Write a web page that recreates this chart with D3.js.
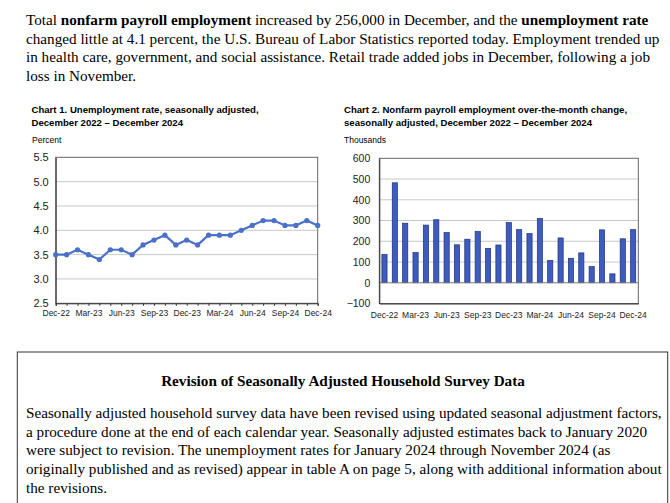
<!DOCTYPE html>
<html>
  <head>
    <meta charset="UTF-8" />
    <title>Employment Situation - December 2024</title>
    <style>
      body,
      html {
        margin: 0;
        padding: 0;
        overflow: hidden;
        background: #fff;
      }
      .serif {
        font-family: "Liberation Serif", "Times New Roman", serif;
        fill: #000;
      }
      .sans {
        font-family: "Liberation Sans", Arial, sans-serif;
        fill: #000;
      }
      .grid line {
        stroke: #c8c8c8;
        stroke-width: 1px;
      }
    </style>
  </head>
  <body>
    <svg id="page"></svg>
    <script src="https://d3js.org/d3.v7.min.js"></script>
    <script>
      const width = 670;
      const height = 503;

      // months Dec-22 .. Dec-24
      const months = [
        "Dec-22", "Jan-23", "Feb-23", "Mar-23", "Apr-23", "May-23", "Jun-23",
        "Jul-23", "Aug-23", "Sep-23", "Oct-23", "Nov-23", "Dec-23", "Jan-24",
        "Feb-24", "Mar-24", "Apr-24", "May-24", "Jun-24", "Jul-24", "Aug-24",
        "Sep-24", "Oct-24", "Nov-24", "Dec-24",
      ];
      const unemploymentRate = [
        3.5, 3.5, 3.6, 3.5, 3.4, 3.6, 3.6, 3.5, 3.7, 3.8, 3.9, 3.7, 3.8, 3.7,
        3.9, 3.9, 3.9, 4.0, 4.1, 4.2, 4.2, 4.1, 4.1, 4.2, 4.1,
      ];
      const payrollChange = [
        136, 482, 287, 146, 278, 304, 242, 183, 210, 247, 166, 182, 290, 256,
        237, 310, 108, 216, 118, 144, 78, 255, 43, 212, 256,
      ];
      const rateTicks = [2.5, 3.0, 3.5, 4.0, 4.5, 5.0, 5.5];
      const payrollTicks = [-100, 0, 100, 200, 300, 400, 500, 600];
      const monthLabels = months.filter((m, i) => i % 3 === 0);

      const introLines = [
        [["Total "], ["nonfarm payroll employment", true], [" increased by 256,000 in December, and the "], ["unemployment rate", true]],
        [["changed little at 4.1 percent, the U.S. Bureau of Labor Statistics reported today. Employment trended up"]],
        [["in health care, government, and social assistance. Retail trade added jobs in December, following a job"]],
        [["loss in November."]],
      ];
      const boxTitle = "Revision of Seasonally Adjusted Household Survey Data";
      const boxLines = [
        "Seasonally adjusted household survey data have been revised using updated seasonal adjustment factors,",
        "a procedure done at the end of each calendar year. Seasonally adjusted estimates back to January 2020",
        "were subject to revision. The unemployment rates for January 2024 through November 2024 (as",
        "originally published and as revised) appear in table A on page 5, along with additional information about",
        "the revisions.",
      ];

      const svg = d3
        .select("#page")
        .attr("width", width)
        .attr("height", height);

      // intro paragraph
      introLines.forEach((segs, i) => {
        const t = svg
          .append("text")
          .attr("class", "serif")
          .attr("x", 26)
          .attr("y", 25 + i * 18.7)
          .style("font-size", "15.2px");
        segs.forEach((s) =>
          t
            .append("tspan")
            .style("font-weight", s[1] ? "bold" : "normal")
            .text(s[0])
        );
      });

      // ---------- Chart 1: unemployment rate ----------
      const c1 = { left: 55.7, right: 317.7, top: 157.3, bottom: 303.3 };

      svg.append("text").attr("class", "sans").attr("x", 31.5).attr("y", 113)
        .style("font-size", "9.6px").style("font-weight", "bold")
        .text("Chart 1. Unemployment rate, seasonally adjusted,");
      svg.append("text").attr("class", "sans").attr("x", 31.5).attr("y", 125.5)
        .style("font-size", "9.6px").style("font-weight", "bold")
        .text("December 2022 \u2013 December 2024");
      svg.append("text").attr("class", "sans").attr("x", 32).attr("y", 143)
        .style("font-size", "8.5px").text("Percent");

      const x1 = d3.scalePoint().domain(months).range([c1.left, c1.right]);
      const y1 = d3.scaleLinear().domain([2.5, 5.5]).range([c1.bottom, c1.top]);

      svg.append("g").attr("class", "grid")
        .selectAll("line")
        .data(rateTicks.slice(1, -1))
        .join("line")
        .attr("x1", c1.left).attr("x2", c1.right)
        .attr("y1", (d) => y1(d)).attr("y2", (d) => y1(d));

      svg.append("rect")
        .attr("x", c1.left).attr("y", c1.top)
        .attr("width", c1.right - c1.left).attr("height", c1.bottom - c1.top)
        .attr("fill", "none").attr("stroke", "#666").attr("stroke-width", 1);

      const yAxis1 = svg.append("g")
        .attr("transform", `translate(${c1.left},0)`)
        .call(d3.axisLeft(y1).tickValues(rateTicks).tickFormat(d3.format(".1f")).tickSize(0).tickPadding(7));
      yAxis1.select(".domain").attr("stroke", "#333");
      yAxis1.selectAll("text")
        .style("font-family", "Liberation Sans, Arial, sans-serif")
        .style("font-size", "11px").attr("fill", "#222");

      const xAxis1 = svg.append("g")
        .attr("transform", `translate(0,${c1.bottom})`)
        .call(d3.axisBottom(x1).tickSize(2.5).tickPadding(4)
          .tickFormat((d) => (monthLabels.includes(d) ? d : "")));
      xAxis1.select(".domain").attr("stroke", "#333");
      xAxis1.selectAll(".tick line").attr("stroke", "#333");
      xAxis1.selectAll("text")
        .style("font-family", "Liberation Sans, Arial, sans-serif")
        .style("font-size", "8.5px").attr("fill", "#222");

      const line = d3.line()
        .x((d, i) => x1(months[i]))
        .y((d) => y1(d));
      svg.append("path")
        .datum(unemploymentRate)
        .attr("d", line)
        .attr("fill", "none")
        .attr("stroke", "#4a70c8")
        .attr("stroke-width", 2.2);
      svg.append("g")
        .selectAll("circle")
        .data(unemploymentRate)
        .join("circle")
        .attr("cx", (d, i) => x1(months[i]))
        .attr("cy", (d) => y1(d))
        .attr("r", 2.6)
        .attr("fill", "#4a70c8");

      // ---------- Chart 2: payroll change ----------
      const c2 = { left: 379.3, right: 638.3, top: 158.3, bottom: 303.5 };

      svg.append("text").attr("class", "sans").attr("x", 344).attr("y", 113)
        .style("font-size", "9.6px").style("font-weight", "bold")
        .text("Chart 2. Nonfarm payroll employment over-the-month change,");
      svg.append("text").attr("class", "sans").attr("x", 344).attr("y", 125.5)
        .style("font-size", "9.6px").style("font-weight", "bold")
        .text("seasonally adjusted, December 2022 \u2013 December 2024");
      svg.append("text").attr("class", "sans").attr("x", 344).attr("y", 143)
        .style("font-size", "8.5px").text("Thousands");

      const x2 = d3.scaleBand().domain(months).range([c2.left, c2.right]).paddingInner(0.5).paddingOuter(0.25);
      const y2 = d3.scaleLinear().domain([-100, 600]).range([c2.bottom, c2.top]);

      svg.append("g").attr("class", "grid")
        .selectAll("line")
        .data(payrollTicks.slice(1, -1).filter((d) => d !== 0))
        .join("line")
        .attr("x1", c2.left).attr("x2", c2.right)
        .attr("y1", (d) => y2(d)).attr("y2", (d) => y2(d));

      svg.append("rect")
        .attr("x", c2.left).attr("y", c2.top)
        .attr("width", c2.right - c2.left).attr("height", c2.bottom - c2.top)
        .attr("fill", "none").attr("stroke", "#666").attr("stroke-width", 1);

      svg.append("g")
        .selectAll("rect")
        .data(payrollChange)
        .join("rect")
        .attr("x", (d, i) => x2(months[i]))
        .attr("width", x2.bandwidth())
        .attr("y", (d) => y2(Math.max(0, d)))
        .attr("height", (d) => Math.abs(y2(d) - y2(0)))
        .attr("fill", "#3d5cbd")
        .attr("stroke", "#1c2f80")
        .attr("stroke-width", 0.7);

      svg.append("line")
        .attr("x1", c2.left).attr("x2", c2.right)
        .attr("y1", y2(0)).attr("y2", y2(0))
        .attr("stroke", "#777").attr("stroke-width", 1);

      const yAxis2 = svg.append("g")
        .attr("transform", `translate(${c2.left},0)`)
        .call(d3.axisLeft(y2).tickValues(payrollTicks).tickSize(0).tickPadding(9));
      yAxis2.select(".domain").attr("stroke", "#333");
      yAxis2.selectAll("text")
        .style("font-family", "Liberation Sans, Arial, sans-serif")
        .style("font-size", "10.5px").attr("fill", "#222");

      const xAxis2 = svg.append("g")
        .attr("transform", `translate(0,${c2.bottom})`)
        .call(d3.axisBottom(x2).tickSize(0).tickPadding(8)
          .tickFormat((d) => (monthLabels.includes(d) ? d : "")));
      xAxis2.select(".domain").attr("stroke", "#333");
      xAxis2.selectAll("text")
        .style("font-family", "Liberation Sans, Arial, sans-serif")
        .style("font-size", "8.5px").attr("fill", "#222");

      // ---------- revision box ----------
      svg.append("rect")
        .attr("x", 17.3).attr("y", 352)
        .attr("width", 667.7 - 17.3).attr("height", 200)
        .attr("fill", "none").attr("stroke", "#333").attr("stroke-width", 1);

      svg.append("text").attr("class", "serif")
        .attr("x", 343).attr("y", 386)
        .attr("text-anchor", "middle")
        .style("font-size", "15.2px").style("font-weight", "bold")
        .text(boxTitle);

      boxLines.forEach((l, i) => {
        svg.append("text").attr("class", "serif")
          .attr("x", 26).attr("y", 418 + i * 18.7)
          .style("font-size", "15.2px")
          .text(l);
      });
    </script>
  </body>
</html>
